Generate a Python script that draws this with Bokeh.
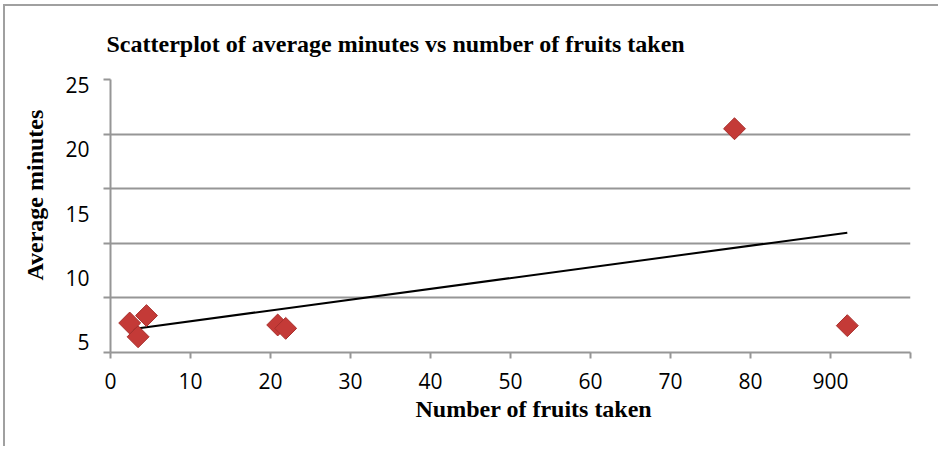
import numpy as np
from bokeh.plotting import figure
from bokeh.models import (Range1d, LinearAxis, FixedTicker, Title, Grid, ColumnDataSource)
from bokeh.embed import file_html
from bokeh.resources import INLINE

# ---- data ----
fruits_taken = [2.4, 4.5, 3.45, 20.9, 21.9, 78.0, 92.1]
avg_minutes = [2.70, 3.38, 1.44, 2.52, 2.21, 20.49, 2.46]

x_ticks = [0, 10, 20, 30, 40, 50, 60, 70, 80, 90, 100]
x_tick_labels = ["0", "10", "20", "30", "40", "50", "60", "70", "80", "900", ""]
grid_ticks = [0, 5, 10, 15, 20, 25]
y_label_ticks = [5, 10, 15, 20, 25]

title_text = "Scatterplot of average minutes vs number of fruits taken"
x_title = "Number of fruits taken"
y_title = "Average minutes"

GRAY = "#969696"
SERIF = "Liberation Serif"
SANS = "Open Sans"

p = figure(width=935, height=442, output_backend="svg", toolbar_location=None,
           x_range=Range1d(0, 100), y_range=Range1d(0, 25),
           min_border_left=103, min_border_right=30, min_border_top=72, min_border_bottom=96,
           x_axis_type=None, y_axis_type=None)
p.styles = {"border-top": "2px solid #a0a0a0", "border-left": "2px solid #a0a0a0",
            "margin-left": "3px", "margin-top": "4px"}
p.outline_line_color = None
p.background_fill_color = "white"
p.border_fill_color = "white"

p.extra_y_ranges = {"lab": Range1d(4.18, 25.45)}

# bottom axis
xa = LinearAxis(ticker=FixedTicker(ticks=x_ticks))
xa.major_label_overrides = {t: l for t, l in zip(x_ticks, x_tick_labels)}
xa.axis_line_color = GRAY
xa.axis_line_width = 2
xa.major_tick_line_color = GRAY
xa.major_tick_line_width = 2
xa.major_tick_out = 6
xa.major_tick_in = 0
xa.minor_tick_line_color = None
xa.major_label_text_font = SANS
xa.major_label_text_font_size = "21px"
xa.major_label_text_color = "black"
xa.major_label_standoff = 14
p.add_layout(xa, "below")

# left axis: line + ticks at gridlines
ya = LinearAxis(ticker=FixedTicker(ticks=grid_ticks))
ya.major_label_overrides = {t: "" for t in grid_ticks}
ya.axis_line_color = GRAY
ya.axis_line_width = 2
ya.major_tick_line_color = GRAY
ya.major_tick_line_width = 2
ya.major_tick_out = 7
ya.major_tick_in = 0
ya.minor_tick_line_color = None
ya.major_label_standoff = 0
p.add_layout(ya, "left")

# left axis: numbers
yl = LinearAxis(y_range_name="lab", ticker=FixedTicker(ticks=y_label_ticks))
yl.axis_line_color = None
yl.major_tick_line_color = None
yl.minor_tick_line_color = None
yl.major_tick_out = 0
yl.major_tick_in = 0
yl.major_label_text_font = SANS
yl.major_label_text_font_size = "21px"
yl.major_label_text_color = "black"
yl.major_label_standoff = 14
p.add_layout(yl, "left")

# horizontal gridlines
grid = Grid(dimension=1, ticker=FixedTicker(ticks=grid_ticks),
            grid_line_color=GRAY, grid_line_width=2)
p.add_layout(grid)

# trend line (least squares fit of the data)
slope, intercept = np.polyfit(fruits_taken, avg_minutes, 1)
tx = [min(fruits_taken), max(fruits_taken)]
ty = [slope * v + intercept for v in tx]
p.line(tx, ty, line_color="black", line_width=2)

src = ColumnDataSource(dict(x=fruits_taken, y=avg_minutes))
p.scatter("x", "y", source=src, marker="square", size=15.5, angle=np.pi / 4,
          fill_color="#c43a37", line_color="#a8302d", line_width=1)

# titles
p.title.text = title_text
p.title.text_font = SERIF
p.title.text_font_size = "24px"
p.title.text_font_style = "bold"
p.title.text_color = "black"
p.title.align = "left"
p.title.offset = -4
p.title.standoff = 45

p.add_layout(Title(text=x_title, text_font=SERIF, text_font_size="24px",
                   text_font_style="bold", text_color="black",
                   align="left", offset=305, standoff=5), "below")
p.add_layout(Title(text=y_title, text_font=SERIF, text_font_size="24px",
                   text_font_style="bold", text_color="black",
                   align="left", offset=72, standoff=29), "left")

open("out.html", "w").write(file_html(p, INLINE))
